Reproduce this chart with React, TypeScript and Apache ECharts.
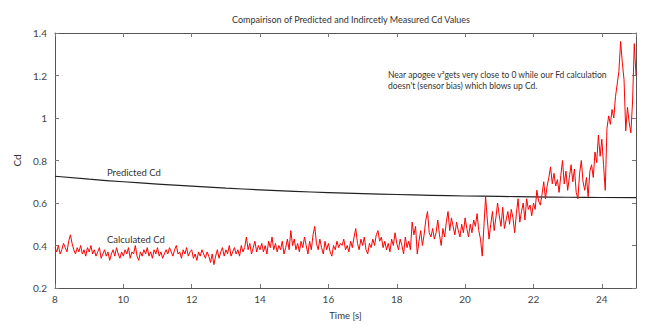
import React, { useEffect, useRef } from "react";
import * as echarts from "echarts";

const title = "Compairison of Predicted and Indircetly Measured Cd Values";
const xName = "Time [s]";
const yName = "Cd";
const noteLines = [
  "Near apogee v\u00B2gets very close to 0 while our Fd calculation",
  "doesn't (sensor bias) which blows up Cd.",
];

// Predicted Cd (smooth curve), one point per second
const predictedTime = [8, 9, 10, 11, 12, 13, 14, 15, 16, 17, 18, 19, 20, 21, 22, 23, 24, 25];
const predictedCd = [0.726, 0.712, 0.700, 0.689, 0.679, 0.670, 0.662, 0.655, 0.649, 0.644, 0.640, 0.636, 0.633, 0.631, 0.629, 0.627, 0.626, 0.625];

// Calculated Cd, sampled every 0.05 s from t = 8 s
const calcStart = 8;
const calcStep = 0.05;
const calculatedCd = [
  // 8
  0.39, 0.37, 0.40, 0.36, 0.38, 0.41, 0.39, 0.37, 0.42, 0.45, 0.41, 0.38, 0.36, 0.39, 0.37, 0.40, 0.36, 0.38, 0.35, 0.39,
  // 9
  0.37, 0.40, 0.36, 0.38, 0.35, 0.37, 0.39, 0.34, 0.36, 0.38, 0.35, 0.37, 0.33, 0.36, 0.38, 0.35, 0.39, 0.36, 0.34, 0.37,
  // 10
  0.35, 0.38, 0.36, 0.39, 0.34, 0.37, 0.36, 0.40, 0.35, 0.33, 0.37, 0.35, 0.38, 0.36, 0.39, 0.35, 0.37, 0.34, 0.38, 0.36,
  // 11
  0.39, 0.35, 0.37, 0.34, 0.36, 0.38, 0.36, 0.39, 0.37, 0.35, 0.38, 0.40, 0.36, 0.37, 0.34, 0.38, 0.36, 0.39, 0.35, 0.37,
  // 12
  0.38, 0.34, 0.36, 0.33, 0.37, 0.35, 0.38, 0.36, 0.34, 0.37, 0.35, 0.32, 0.36, 0.31, 0.35, 0.38, 0.34, 0.37, 0.39, 0.35,
  // 13
  0.38, 0.36, 0.40, 0.35, 0.37, 0.39, 0.36, 0.38, 0.35, 0.40, 0.37, 0.39, 0.44, 0.38, 0.41, 0.36, 0.39, 0.42, 0.37, 0.40,
  // 14
  0.38, 0.41, 0.37, 0.40, 0.36, 0.42, 0.39, 0.44, 0.38, 0.41, 0.37, 0.40, 0.38, 0.42, 0.36, 0.39, 0.43, 0.38, 0.47, 0.40,
  // 15
  0.43, 0.38, 0.41, 0.37, 0.42, 0.39, 0.44, 0.40, 0.36, 0.42, 0.38, 0.45, 0.49, 0.41, 0.38, 0.43, 0.39, 0.36, 0.42, 0.38,
  // 16
  0.41, 0.37, 0.35, 0.40, 0.38, 0.42, 0.39, 0.41, 0.40, 0.43, 0.38, 0.40, 0.37, 0.42, 0.39, 0.44, 0.48, 0.41, 0.38, 0.43,
  // 17
  0.40, 0.44, 0.38, 0.36, 0.41, 0.39, 0.43, 0.40, 0.45, 0.47, 0.42, 0.44, 0.39, 0.42, 0.38, 0.41, 0.37, 0.43, 0.40, 0.46,
  // 18
  0.41, 0.38, 0.43, 0.40, 0.36, 0.44, 0.39, 0.42, 0.38, 0.51, 0.45, 0.49, 0.36, 0.42, 0.47, 0.40, 0.45, 0.52, 0.56, 0.46,
  // 19
  0.44, 0.48, 0.43, 0.46, 0.52, 0.45, 0.40, 0.48, 0.44, 0.51, 0.56, 0.47, 0.53, 0.49, 0.45, 0.51, 0.47, 0.44, 0.50, 0.46,
  // 20
  0.53, 0.48, 0.44, 0.50, 0.46, 0.52, 0.49, 0.55, 0.47, 0.43, 0.35, 0.49, 0.63, 0.52, 0.43, 0.50, 0.56, 0.47, 0.53, 0.60,
  // 21
  0.54, 0.49, 0.58, 0.48, 0.52, 0.56, 0.50, 0.57, 0.53, 0.46, 0.55, 0.62, 0.51, 0.56, 0.60, 0.52, 0.62, 0.57, 0.59, 0.54,
  // 22
  0.60, 0.57, 0.66, 0.61, 0.59, 0.64, 0.70, 0.62, 0.68, 0.72, 0.77, 0.69, 0.74, 0.68, 0.71, 0.65, 0.73, 0.80, 0.69, 0.75,
  // 23
  0.66, 0.72, 0.78, 0.70, 0.76, 0.65, 0.62, 0.74, 0.80, 0.70, 0.66, 0.72, 0.63, 0.75, 0.78, 0.72, 0.84, 0.79, 0.92, 0.82,
  // 24
  0.90, 0.78, 0.66, 0.95, 1.01, 0.97, 1.04, 1.00, 1.10, 1.16, 1.22, 1.36, 1.26, 1.18, 0.94, 1.05, 0.98, 0.93, 1.08, 1.35,
  // 25
  1.20,
];

const xTicks = { min: 8, max: 25, interval: 2 };
const yTicks = { min: 0.2, max: 1.4, interval: 0.2 };

const FONT = "Lato";

export default function App() {
  const ref = useRef<HTMLDivElement>(null);

  useEffect(() => {
    if (!ref.current) return;
    const chart = echarts.init(ref.current, null, { renderer: "svg" });

    const predicted = predictedTime.map((t, i) => [t, predictedCd[i]]);
    const calculated = calculatedCd.map((v, i) => [
      Math.round((calcStart + i * calcStep) * 100) / 100,
      v,
    ]);

    const axisLine = { show: true, lineStyle: { color: "#555", width: 1 } };
    const tickStyle = { show: true, inside: true, length: 4, lineStyle: { color: "#777" } };
    const labelStyle = { color: "#444", fontSize: 10, fontFamily: FONT };

    chart.setOption({
      animation: false,
      backgroundColor: "#fff",
      title: {
        text: title,
        left: 346,
        textAlign: "center",
        top: 10,
        textStyle: { color: "#333", fontSize: 9, fontWeight: "normal", fontFamily: FONT },
      },
      grid: { left: 55, right: 14, top: 33, bottom: 35, containLabel: false },
      xAxis: [
        {
          type: "value",
          min: xTicks.min,
          max: xTicks.max,
          interval: xTicks.interval,
          name: xName,
          nameLocation: "middle",
          nameGap: 22,
          nameTextStyle: { color: "#333", fontSize: 9.5, fontFamily: FONT },
          axisLine,
          axisTick: tickStyle,
          axisLabel: { ...labelStyle, margin: 6, showMaxLabel: false },
          splitLine: { show: false },
        },
        {
          type: "value",
          position: "top",
          min: xTicks.min,
          max: xTicks.max,
          interval: xTicks.interval,
          axisLine,
          axisTick: tickStyle,
          axisLabel: { show: false },
          splitLine: { show: false },
        },
      ],
      yAxis: [
        {
          type: "value",
          min: yTicks.min,
          max: yTicks.max,
          interval: yTicks.interval,
          name: yName,
          nameLocation: "middle",
          nameGap: 33,
          nameRotate: 90,
          nameTextStyle: { color: "#333", fontSize: 10, fontFamily: FONT },
          axisLine,
          axisTick: tickStyle,
          axisLabel: { ...labelStyle, margin: 8 },
          splitLine: { show: false },
        },
        {
          type: "value",
          position: "right",
          min: yTicks.min,
          max: yTicks.max,
          interval: yTicks.interval,
          axisLine,
          axisTick: tickStyle,
          axisLabel: { show: false },
          splitLine: { show: false },
        },
      ],
      series: [
        {
          name: "Predicted Cd",
          type: "line",
          data: predicted,
          smooth: true,
          showSymbol: false,
          lineStyle: { color: "#222", width: 1.2 },
          z: 2,
        },
        {
          name: "Calculated Cd",
          type: "line",
          data: calculated,
          showSymbol: false,
          lineStyle: { color: "#ff0000", width: 1 },
          z: 3,
        },
      ],
      graphic: [
        {
          type: "text",
          left: 107,
          top: 167,
          z: 10,
          style: { text: "Predicted Cd", fill: "#333", fontSize: 9.5, fontFamily: FONT },
        },
        {
          type: "text",
          left: 107,
          top: 234,
          z: 10,
          style: { text: "Calculated Cd", fill: "#333", fontSize: 9.5, fontFamily: FONT },
        },
        {
          type: "text",
          left: 388,
          top: 69,
          z: 10,
          style: {
            text: noteLines.join("\n"),
            fill: "#333",
            fontSize: 8.5,
            lineHeight: 11,
            fontFamily: FONT,
          },
        },
      ],
    });

    return () => chart.dispose();
  }, []);

  return <div ref={ref} style={{ width: 650, height: 325, position: "absolute", left: 0, top: 0 }} />;
}
